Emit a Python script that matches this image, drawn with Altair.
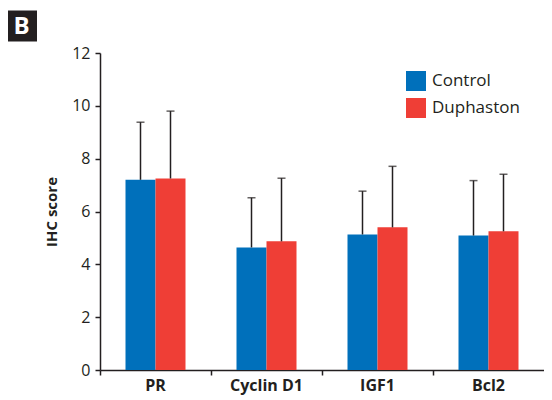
import altair as alt
import pandas as pd

genes = ["PR", "Cyclin D1", "IGF1", "Bcl2"]
groups = ["Control", "Duphaston"]
control_mean = [7.2, 4.64, 5.13, 5.09]
duphaston_mean = [7.25, 4.87, 5.40, 5.25]
control_upper = [9.38, 6.52, 6.77, 7.17]
duphaston_upper = [9.80, 7.26, 7.71, 7.41]
y_ticks = [0, 2, 4, 6, 8, 10, 12]

rows = []
for i, g in enumerate(genes):
    rows.append({"gene": g, "group": "Control", "mean": control_mean[i], "upper": control_upper[i]})
    rows.append({"gene": g, "group": "Duphaston", "mean": duphaston_mean[i], "upper": duphaston_upper[i]})
df = pd.DataFrame(rows)

FONT = "Open Sans"
DARK = "#231f20"

xscale = alt.Scale(domain=genes, paddingInner=0.0, paddingOuter=0.0)
yscale = alt.Scale(domain=[0, 12], nice=False)
xoff = alt.XOffset("group:N", scale=alt.Scale(domain=groups, paddingOuter=0.85, paddingInner=0))
color = alt.Color(
    "group:N",
    scale=alt.Scale(domain=groups, range=["#0070bb", "#ef3e36"]),
    legend=alt.Legend(
        title=None, orient="none", legendX=306, legendY=18, symbolType="square",
        symbolSize=400, symbolStrokeWidth=0, symbolOpacity=1, labelFontSize=17,
        labelFont=FONT, labelColor=DARK, rowPadding=7, labelOffset=6, padding=0,
    ),
)

yaxis = alt.Axis(title="IHC score", values=y_ticks, grid=False, tickSize=5,
                 tickColor=DARK, tickWidth=1.5, domainColor=DARK, domainWidth=1.5,
                 labelFont=FONT, labelFontSize=16, labelColor=DARK, labelPadding=5,
                 titleFont=FONT, titleFontSize=15, titleFontWeight="bold",
                 titleColor=DARK, titlePadding=12)

base = alt.Chart(df)

bars = base.mark_bar(opacity=1).encode(
    x=alt.X("gene:N", scale=xscale, sort=genes,
            axis=alt.Axis(title=None, ticks=False, labelAngle=0, labelFont=FONT,
                          labelFontSize=16, labelFontWeight="bold", labelColor=DARK,
                          labelPadding=7, domainColor=DARK, domainWidth=1.5,
                          labelBaseline="top", orient="bottom")),
    xOffset=xoff,
    y=alt.Y("mean:Q", scale=yscale, axis=yaxis),
    color=color,
)

err = base.mark_rule(color=DARK, strokeWidth=1.5).encode(
    x=alt.X("gene:N", scale=xscale, sort=genes, axis=None),
    xOffset=xoff,
    y=alt.Y("mean:Q", scale=yscale, axis=yaxis),
    y2="upper:Q",
)

caps = base.mark_tick(color=DARK, thickness=1.5, size=8, orient="horizontal").encode(
    x=alt.X("gene:N", scale=xscale, sort=genes, axis=None),
    xOffset=xoff,
    y=alt.Y("upper:Q", scale=yscale, axis=yaxis),
)

xticks_layer = base.mark_bar(opacity=0).encode(
    x=alt.X("gene:N", scale=xscale, sort=genes,
            axis=alt.Axis(title=None, labels=False, domain=False, ticks=True, tickSize=5,
                          tickColor=DARK, tickWidth=1.5, bandPosition=0, orient="bottom")),
    y=alt.Y("mean:Q", scale=yscale, axis=yaxis),
)

badge = alt.Chart(pd.DataFrame({"t": ["B"]})).mark_square(
    size=961, color="#231f20", opacity=1, filled=True
).encode(x=alt.value(-78.5), y=alt.value(-27))

badge_text = alt.Chart(pd.DataFrame({"t": ["B"]})).mark_text(
    color="white", fontSize=24, fontWeight="bold", font=FONT, align="center", baseline="middle"
).encode(x=alt.value(-78.5), y=alt.value(-26), text="t:N")

chart = alt.layer(bars, err, caps, xticks_layer, badge, badge_text).resolve_axis(
    x="independent"
).properties(
    width=444, height=317,
    autosize=alt.AutoSizeParams(type="none"),
    padding={"left": 92, "top": 45, "right": 0, "bottom": 27},
).configure_view(stroke=None)

chart.save("out.html", embed_options={"renderer": "svg", "actions": False})
